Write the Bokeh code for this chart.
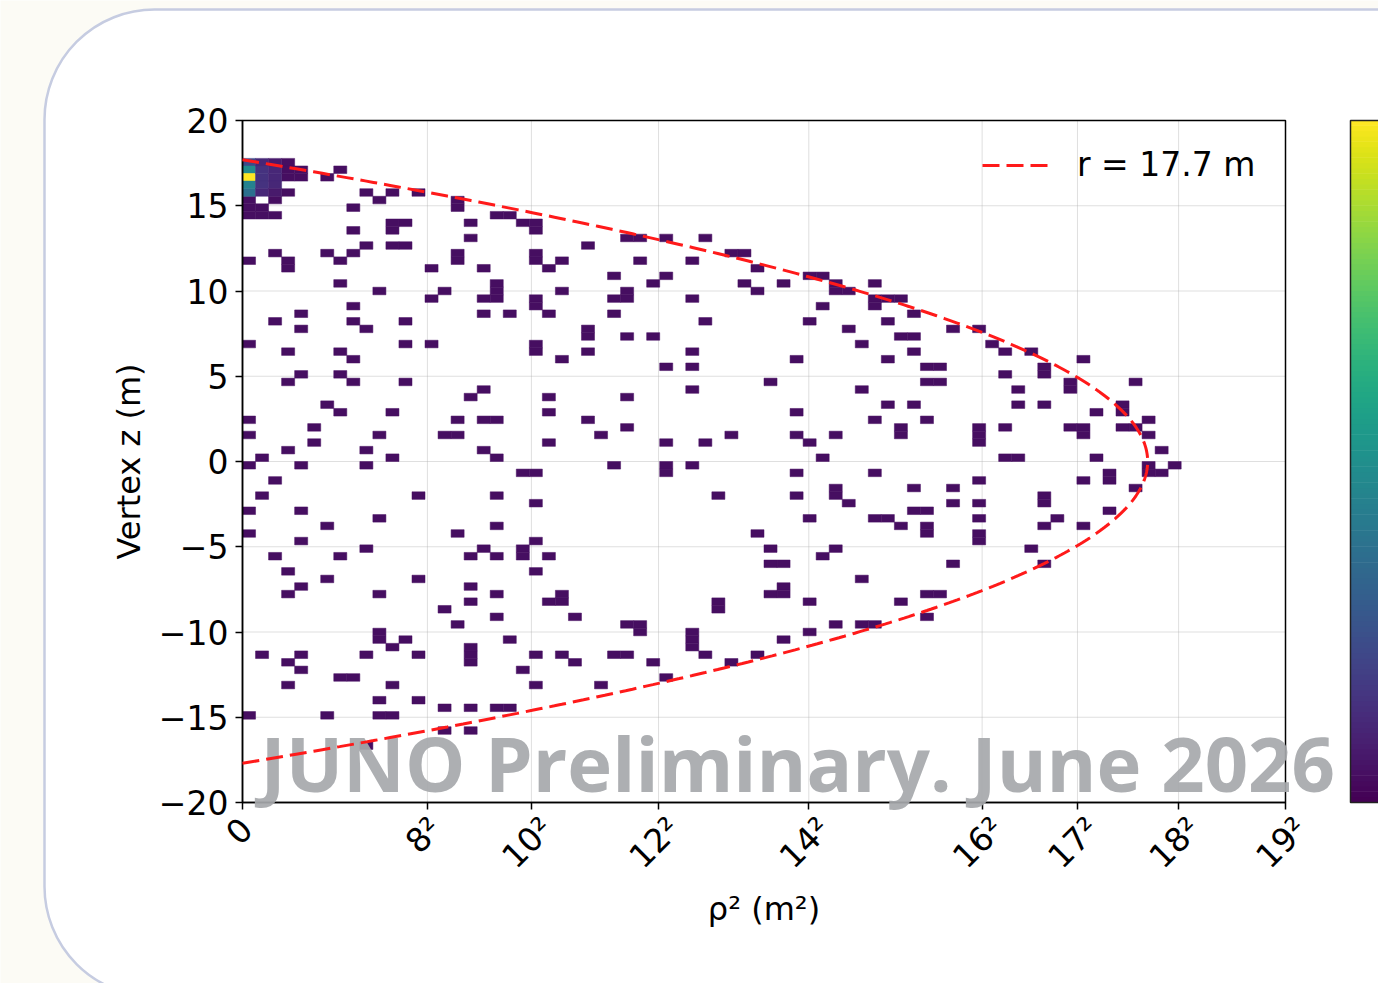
import math
import numpy as np
from bokeh.plotting import figure
from bokeh.models import (Range1d, FixedTicker, BoxAnnotation, Label, Legend, LegendItem,
                          LinearColorMapper, ColumnDataSource)
from bokeh.palettes import Viridis256
from bokeh.embed import file_html
from bokeh.resources import INLINE

# ---------------- data ----------------
RHO2_MAX = 361.0          # 19^2
N_RHO2_BINS = 80
Z_MIN, Z_MAX = -20.0, 20.0
N_Z_BINS = 90
R_FV = 17.7               # boundary radius (m)

x_tick_values = [0, 64, 100, 144, 196, 256, 289, 324, 361]
x_tick_labels = ["0", "8²", "10²", "12²", "14²", "16²", "17²", "18²", "19²"]
y_tick_values = [-20, -15, -10, -5, 0, 5, 10, 15, 20]
y_tick_labels = ["−20", "−15", "−10", "−5", "0", "5", "10", "15", "20"]

# single-entry bins: z-bin index of each row, and the rho^2-bin indices filled in that row
z_rows = [84, 83, 82, 80, 79, 78, 77, 76, 75, 74, 73, 72, 71, 70, 69, 68, 67, 66, 65, 64,
          63, 62, 61, 60, 59, 58, 57, 56, 55, 54, 53, 52, 51, 50, 49, 48, 47, 46, 45, 44,
          43, 42, 41, 40, 39, 38, 37, 36, 35, 34, 33, 32, 31, 30, 29, 28, 27, 26, 25, 24,
          23, 22, 21, 20, 19, 18, 17, 16, 15, 13, 12, 11, 9, 7]
rho2_bins_in_row = [
    [3], [3, 4, 7], [3, 4, 6], [3, 9, 11, 13], [0, 2, 10, 16], [0, 1, 8, 16],
    [0, 1, 2, 19, 20], [11, 12, 17, 21, 22], [8, 11, 22], [17, 29, 30, 32, 35],
    [9, 11, 12, 26], [2, 6, 8, 16, 22, 37, 38], [0, 3, 7, 16, 22, 24, 30, 34],
    [3, 14, 18, 23, 39], [28, 32, 43, 44], [7, 19, 31, 38, 41, 45, 48],
    [10, 15, 19, 24, 29, 39, 45, 46], [14, 18, 19, 22, 28, 29, 34, 48, 49, 50],
    [8, 22, 44, 48], [4, 18, 20, 23, 28, 51], [2, 8, 12, 35, 43, 49],
    [4, 9, 26, 46, 54, 56], [26, 29, 31, 50, 51], [0, 12, 14, 22, 47, 57],
    [3, 7, 22, 26, 34, 51, 58, 60], [8, 24, 42, 49, 64], [32, 34, 52, 53, 61],
    [4, 7, 58, 61], [3, 8, 12, 40, 52, 53, 63, 68], [18, 34, 47, 59, 63],
    [17, 23, 29], [6, 49, 51, 59, 61, 67], [7, 11, 23, 42, 65, 67],
    [0, 16, 18, 19, 26, 48, 52, 69], [5, 29, 50, 56, 58, 63, 64, 67, 68],
    [0, 10, 15, 16, 27, 37, 42, 45, 50, 56, 64, 69], [5, 23, 32, 35, 43, 56],
    [3, 9, 18, 70], [1, 11, 19, 44, 58, 59, 65], [0, 4, 9, 28, 32, 34, 69, 71],
    [21, 22, 32, 42, 48, 66, 69, 70], [2, 56, 64, 66], [45, 51, 54, 68],
    [1, 13, 19, 36, 42, 45, 61], [22, 46, 54, 56, 61], [0, 4, 51, 52, 66],
    [10, 43, 48, 49, 56, 62], [6, 19, 50, 52, 61, 64], [0, 16, 39, 52, 56], [4, 22, 56],
    [9, 18, 21, 40, 45, 60], [2, 7, 17, 19, 21, 23, 44], [40, 41, 54, 61],
    [3, 22], [6, 13, 47], [4, 17, 41], [3, 10, 19, 24, 40, 41, 52, 53],
    [17, 23, 24, 36, 43, 50], [15, 36], [19, 25, 52], [16, 29, 30, 45, 47, 48],
    [10, 30, 34, 43], [10, 12, 20, 34, 41], [11, 17, 34],
    [1, 4, 9, 13, 17, 22, 24, 28, 29, 35, 39], [3, 17, 25, 31, 37], [4, 21],
    [7, 8, 32], [3, 11, 22, 27], [10, 13], [15, 17, 19, 20], [0, 6, 10, 11], [15, 17], [9],
]

# multi-entry bins near the top of the detector axis
hot_rho2_bin = [0, 0, 0, 0, 0, 1, 1, 1, 1, 1, 2, 2, 2, 2, 2]
hot_z_bin = [84, 83, 82, 81, 80, 84, 83, 82, 81, 80, 84, 83, 82, 81, 80]
hot_count = [6, 13, 27, 12, 10, 3, 4, 4, 4, 3, 2, 3, 3, 3, 2]

COUNT_MIN, COUNT_MAX = 0.0, 27.0

# ---------------- layout constants (pixels on the canvas) ----------------
CANVAS_W, CANVAS_H = 1378, 983
BOX_L, BOX_R, BOX_T, BOX_B = 242, 1285, 120, 802      # plot box edges on the canvas

# data ranges chosen so that the plot box lands on BOX_*
px_x = (BOX_R - BOX_L) / RHO2_MAX
px_y = (BOX_B - BOX_T) / (Z_MAX - Z_MIN)
x_start = 0.0 - BOX_L / px_x
x_end = RHO2_MAX + (CANVAS_W - BOX_R) / px_x
y_start = Z_MIN - (CANVAS_H - BOX_B) / px_y
y_end = Z_MAX + BOX_T / px_y

# ---------------- build histogram cells ----------------
rho2_edges = np.linspace(0.0, RHO2_MAX, N_RHO2_BINS + 1)
z_edges = np.linspace(Z_MIN, Z_MAX, N_Z_BINS + 1)

ix_all, iz_all, cnt_all = [], [], []
for iz, row in zip(z_rows, rho2_bins_in_row):
    for ix in row:
        ix_all.append(ix); iz_all.append(iz); cnt_all.append(1)
for ix, iz, c in zip(hot_rho2_bin, hot_z_bin, hot_count):
    ix_all.append(ix); iz_all.append(iz); cnt_all.append(c)
ix_all = np.array(ix_all); iz_all = np.array(iz_all)

src = ColumnDataSource(dict(
    left=rho2_edges[ix_all], right=rho2_edges[ix_all + 1],
    bottom=z_edges[iz_all], top=z_edges[iz_all + 1], count=cnt_all))

mapper = LinearColorMapper(palette=Viridis256, low=COUNT_MIN, high=COUNT_MAX)

# ---------------- figure ----------------
FONT = "DejaVu Sans"
PAGE_BG = "#fcfbf5"
p = figure(frame_width=CANVAS_W, frame_height=CANVAS_H, title=None,
           x_range=Range1d(x_start, x_end), y_range=Range1d(y_start, y_end),
           output_backend="svg", toolbar_location=None, min_border=0)
p.border_fill_color = PAGE_BG
p.background_fill_color = PAGE_BG
p.outline_line_color = None
p.xgrid.visible = False
p.ygrid.visible = False

# card behind everything (screen units = canvas pixels, y measured from bottom)
card = BoxAnnotation(left=44, right=1600, top=CANVAS_H - 9, bottom=-13,
                     left_units="screen", right_units="screen", top_units="screen", bottom_units="screen",
                     fill_color="white", fill_alpha=1.0, line_color="#c6cce1", line_alpha=1.0,
                     line_width=2.5, border_radius=110, level="image")
p.add_layout(card)

# grid lines at the tick positions
gx = p.segment(x0=x_tick_values, y0=[Z_MIN] * len(x_tick_values), x1=x_tick_values,
               y1=[Z_MAX] * len(x_tick_values), line_color="#b0b0b0", line_alpha=0.4, line_width=1)
gy = p.segment(x0=[0.0] * len(y_tick_values), y0=y_tick_values, x1=[RHO2_MAX] * len(y_tick_values),
               y1=y_tick_values, line_color="#b0b0b0", line_alpha=0.4, line_width=1)
gx.level = "underlay"; gy.level = "underlay"

cells = p.quad(left="left", right="right", bottom="bottom", top="top", source=src,
               fill_color={"field": "count", "transform": mapper},
               line_color={"field": "count", "transform": mapper}, line_width=0.5)

# plot box (spines)
p.add_layout(BoxAnnotation(left=0, right=RHO2_MAX, bottom=Z_MIN, top=Z_MAX,
                           fill_alpha=0, line_color="black", line_alpha=1.0, line_width=1.5))

# watermark
wm = Label(x=BOX_L + 18, y=CANVAS_H - 792 + 30, x_units="screen", y_units="screen",
           text="JUNO Preliminary. June 2026",
           text_font="Open Sans", text_font_size="76px", text_font_style="bold",
           text_color="#a6a8ab", text_alpha=0.92, text_baseline="alphabetic")
p.add_layout(wm)

# boundary r = 17.7 m : rho^2 = r^2 - z^2
zc = np.linspace(-R_FV, R_FV, 400)
rho2c = R_FV ** 2 - zc ** 2
line_r = p.line(rho2c, zc, line_color="#ff1a1a", line_width=3, line_dash="17 7")
line_r.level = "overlay"

legend = Legend(items=[LegendItem(label="r = 17.7 m", renderers=[line_r])],
                location=(982, 799), label_text_font=FONT, label_text_font_size="33px",
                glyph_width=67, glyph_height=30, label_standoff=28, padding=0, margin=0,
                border_line_alpha=0, background_fill_alpha=0, label_text_color="black")
p.add_layout(legend)

# colour bar (drawn as stacked strips, screen units)
CB_L, CB_R = 1350, 1384
n_strips = 128
cb_bottom, cb_top = CANVAS_H - BOX_B, CANVAS_H - BOX_T
bar_h = (cb_top - cb_bottom) / n_strips
for k in range(n_strips):
    col = Viridis256[int(k * 255 / (n_strips - 1))]
    p.add_layout(BoxAnnotation(left=CB_L, right=CB_R, bottom=cb_bottom + k * bar_h,
                               top=cb_bottom + (k + 1) * bar_h + 0.6,
                               left_units="screen", right_units="screen", top_units="screen",
                               bottom_units="screen", fill_color=col, fill_alpha=1.0, line_alpha=0))
p.add_layout(BoxAnnotation(left=CB_L, right=CB_R, bottom=cb_bottom, top=cb_top,
                           left_units="screen", right_units="screen", top_units="screen",
                           bottom_units="screen", fill_alpha=0, line_color="#222222",
                           line_alpha=1.0, line_width=1.5))

# axes fixed to the plot box
p.xaxis.fixed_location = Z_MIN
p.xaxis.bounds = (0, RHO2_MAX)
p.yaxis.fixed_location = 0.0
p.yaxis.bounds = (Z_MIN, Z_MAX)
p.xaxis.ticker = FixedTicker(ticks=x_tick_values)
p.xaxis.major_label_overrides = {v: "" for v in x_tick_values}
p.yaxis.ticker = FixedTicker(ticks=y_tick_values)
p.yaxis.major_label_overrides = {v: t for v, t in zip(y_tick_values, y_tick_labels)}
for ax in (p.xaxis, p.yaxis):
    ax.axis_line_width = 1.5
    ax.axis_line_color = "black"
    ax.major_tick_line_width = 1.5
    ax.major_tick_line_color = "black"
    ax.major_tick_out = 7
    ax.major_tick_in = 0
    ax.minor_tick_line_color = None
    ax.major_label_text_font = FONT
    ax.major_label_text_font_size = "33px"
    ax.major_label_text_color = "black"
    ax.axis_label_text_font = FONT
    ax.axis_label_text_font_size = "32px"
    ax.axis_label_text_font_style = "normal"
    ax.axis_label_text_color = "black"
    ax.major_label_standoff = 7
p.xaxis.axis_label = "ρ² (m²)"
p.yaxis.axis_label = "Vertex z (m)"
p.yaxis.axis_label_standoff = 8
p.xaxis.axis_label_standoff = 80

# rotated x tick labels (centred under each tick like the original)
FS = 33.0
def _label_width(t):
    return sum(0.401 if ch == "²" else 0.636 for ch in t) * FS
xl_yoff = [12 + 0.5 * 0.7071 * (_label_width(t) + 24) for t in x_tick_labels]
p.text(x=x_tick_values, y=[Z_MIN] * len(x_tick_values), text=x_tick_labels,
       x_offset=-4, y_offset=xl_yoff, angle=math.pi / 4,
       text_align="center", text_baseline="middle", text_font_size="33px",
       text_font={"value": FONT}, text_color="black")

open("out.html", "w").write(file_html(p, INLINE))
